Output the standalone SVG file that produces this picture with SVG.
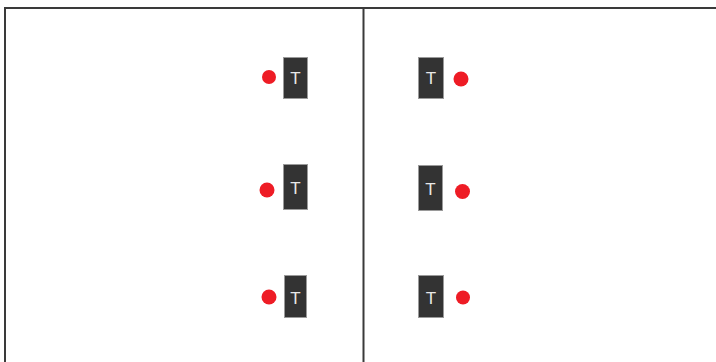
<svg xmlns="http://www.w3.org/2000/svg" width="716" height="362" viewBox="0 0 716 362">
<style>
.box{fill:#333333;stroke:#9a9a9a;stroke-width:1}
.lbl{font-family:"Liberation Sans",Arial,sans-serif;font-size:17px;fill:#e8e8e8;text-anchor:middle}
.dot{fill:#ee1c25}
.frame{stroke:#3a3a3a;stroke-width:2;fill:none}
</style>
<rect width="716" height="362" fill="#ffffff"/>
<g id="connectors">
<line class="frame" x1="5" y1="8" x2="716" y2="8"/>
<line class="frame" x1="5" y1="7" x2="5" y2="362"/>
<line class="frame" x1="363.5" y1="8" x2="363.5" y2="362"/>
</g>
<g id="node-l1"><circle class="dot" cx="269" cy="77" r="7"/><rect class="box" x="283.5" y="57.5" width="24" height="41"/><text class="lbl" x="295.5" y="84">T</text></g>
<g id="node-l2"><circle class="dot" cx="267" cy="190" r="7.5"/><rect class="box" x="283.5" y="164.5" width="24" height="45"/><text class="lbl" x="295.5" y="194">T</text></g>
<g id="node-l3"><circle class="dot" cx="269" cy="297" r="7.5"/><rect class="box" x="284.5" y="275.5" width="22" height="42"/><text class="lbl" x="295.5" y="304">T</text></g>
<g id="node-r1"><rect class="box" x="418.5" y="57.5" width="25" height="41"/><text class="lbl" x="431" y="84">T</text><circle class="dot" cx="461" cy="79" r="7.5"/></g>
<g id="node-r2"><rect class="box" x="418.5" y="165.5" width="24" height="45"/><text class="lbl" x="430.5" y="195">T</text><circle class="dot" cx="462.5" cy="191.5" r="7.5"/></g>
<g id="node-r3"><rect class="box" x="418.5" y="275.5" width="25" height="42"/><text class="lbl" x="431" y="304">T</text><circle class="dot" cx="463" cy="297.5" r="7"/></g>
</svg>
